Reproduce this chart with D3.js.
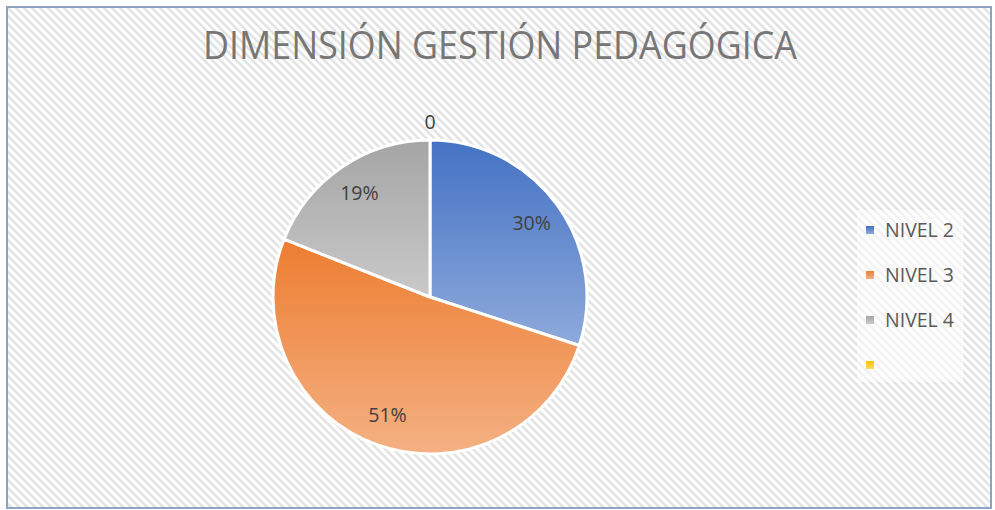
<!DOCTYPE html>
<html><head><meta charset="utf-8">
<script src="https://cdn.jsdelivr.net/npm/d3@7"></script>
<style>body{margin:0;background:#fff}svg{display:block}</style>
</head><body>
<svg id="c" width="995" height="510"></svg>
<script>
const categories = ["NIVEL 2", "NIVEL 3", "NIVEL 4", ""];
const values = [30, 51, 19, 0];
const labels = ["30%", "51%", "19%", "0"];
const colorsTop = ["#4472c4", "#ed7d31", "#a5a5a5", "#ffc000"];
const colorsBottom = ["#8eaadb", "#f4b183", "#c9c9c9", "#ffd966"];
const title = "DIMENSIÓN GESTIÓN PEDAGÓGICA";

const svg = d3.select("#c");
const defs = svg.append("defs");
const pat = defs.append("pattern").attr("id","hatch").attr("patternUnits","userSpaceOnUse")
  .attr("width",8).attr("height",8);
pat.append("rect").attr("width",8).attr("height",8).attr("fill","#ffffff");
pat.append("path").attr("d","M-2,6 L2,10 M0,0 L8,8 M6,-2 L10,2")
  .attr("stroke","#e3e3e3").attr("stroke-width",2.6);

colorsTop.forEach((c,i)=>{
  const g = defs.append("linearGradient").attr("id","g"+i).attr("x1",0).attr("y1",0).attr("x2",0).attr("y2",1);
  g.append("stop").attr("offset","0%").attr("stop-color",c);
  g.append("stop").attr("offset","100%").attr("stop-color",colorsBottom[i]);
});

svg.append("rect").attr("x",0).attr("y",0).attr("width",995).attr("height",510).attr("fill","#fff");
svg.append("rect").attr("x",7).attr("y",7).attr("width",984).attr("height",501)
  .attr("fill","url(#hatch)").attr("stroke","#8ea3c2").attr("stroke-width",2);

svg.append("text").attr("x",500).attr("y",59).attr("text-anchor","middle")
  .attr("font-family","'Open Sans', 'Noto Sans', sans-serif").attr("font-size",39)
  .attr("fill","#767676").attr("textLength",594).attr("lengthAdjust","spacingAndGlyphs")
  .text(title);

const cx = 430, cy = 297, r = 157;
const data = categories.map((c,i)=>({name:c, value:values[i], label:labels[i], i}));
const pie = d3.pie().value(d=>d.value).sort(null);
const arcs = pie(data);
const arc = d3.arc().innerRadius(0).outerRadius(r);
const g = svg.append("g").attr("transform",`translate(${cx},${cy})`);
g.selectAll("path").data(arcs.filter(a=>a.data.value>0)).join("path")
  .attr("d",arc).attr("fill",d=>`url(#g${d.data.i})`)
  .attr("stroke","#fff").attr("stroke-width",3).attr("stroke-linejoin","round");

const labelArc = d3.arc().innerRadius(r*0.8).outerRadius(r*0.8);
const fs = 19.5;
g.selectAll("text.lbl").data(arcs).join("text").attr("class","lbl")
  .attr("transform",d=>{
    if (d.data.value===0) return `translate(0,${-r-18})`;
    const [x,y]=labelArc.centroid(d); return `translate(${x},${y})`;})
  .attr("text-anchor","middle").attr("dy","0.35em")
  .attr("font-family","'Open Sans', 'Noto Sans', sans-serif").attr("font-size",fs)
  .attr("fill","#404040").text(d=>d.data.label);

const lg = svg.append("g");
lg.append("rect").attr("x",857).attr("y",210).attr("width",106).attr("height",172)
  .attr("fill","#fff").attr("opacity",0.55);
const y = d3.scalePoint().domain(categories.map((c,i)=>i)).range([230,365]);
const items = lg.selectAll("g.it").data(data).join("g").attr("class","it")
  .attr("transform",d=>`translate(866,${y(d.i)})`);
items.append("rect").attr("x",0).attr("y",-4).attr("width",8).attr("height",8)
  .attr("fill",d=>`url(#g${d.i})`);
items.append("text").attr("x",19).attr("dy","0.36em")
  .attr("font-family","'Open Sans', 'Noto Sans', sans-serif").attr("font-size",19.5)
  .attr("fill","#595959").text(d=>d.name);
</script>
</body></html>
